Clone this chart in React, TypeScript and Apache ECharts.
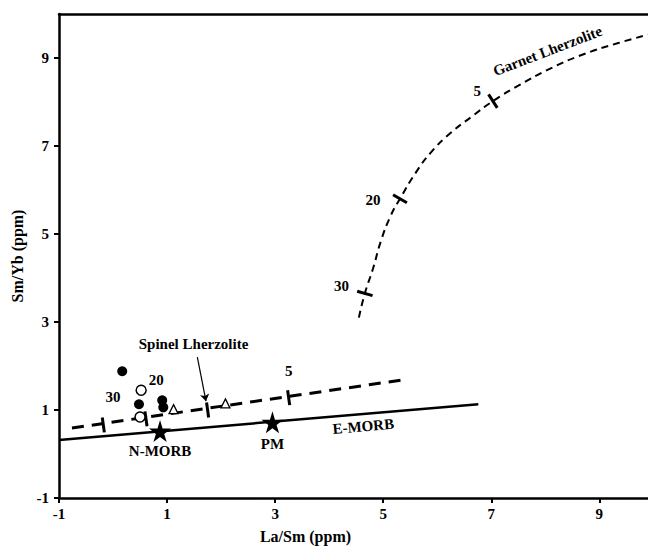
import React, { useEffect, useRef } from "react";
import * as echarts from "echarts";

// ---- data (La/Sm, Sm/Yb) ----
const xTicks = [-1, 1, 3, 5, 7, 9];
const yTicks = [-1, 1, 3, 5, 7, 9];

const eMorbLine = [[-1, 0.32], [6.76, 1.13]];
const spinelLine = [[-0.76, 0.59], [5.33, 1.68]];
const garnetCurve = [
  [4.55, 3.1], [4.66, 3.65], [4.81, 4.21], [4.96, 4.85], [5.14, 5.42], [5.31, 5.8],
  [5.6, 6.39], [5.88, 6.85], [6.25, 7.3], [6.63, 7.66], [7.03, 8.02], [7.5, 8.37],
  [8.11, 8.77], [8.72, 9.09], [9.35, 9.34], [9.9, 9.53],
];
const spinelTicks = [[-0.18, 0.66], [0.61, 0.8], [1.75, 1.0], [3.25, 1.28]];
const garnetTicks = [[4.66, 3.65], [5.31, 5.8], [7.03, 8.02]];
const garnetTickAngles = [74, 60, 33];

const filledCircles = [[0.17, 1.88], [0.48, 1.13], [0.91, 1.22], [0.93, 1.06]];
const openCircles = [[0.52, 1.45], [0.5, 0.84]];
const openTriangles = [[1.12, 1.02], [2.08, 1.15]];
const stars = [[0.87, 0.52], [2.95, 0.72]];
const arrow = [[1.56, 2.2], [1.72, 1.2]];

const numberLabels: [number, number, string][] = [
  [0.0, 1.29, "30"],
  [0.8, 1.68, "20"],
  [3.25, 1.88, "5"],
  [4.23, 3.81, "30"],
  [4.81, 5.78, "20"],
  [6.74, 8.25, "5"],
];
const nameLabels: [number, number, string, number][] = [
  [0.87, 0.07, "N-MORB", 0],
  [2.95, 0.22, "PM", 0],
  [1.49, 2.49, "Spinel Lherzolite", 0],
  [4.63, 0.63, "E-MORB", 5],
  [8.04, 9.16, "Garnet Lherzolite", 21],
];

const FONT = "'Liberation Serif', 'Times New Roman', serif";
const STAR = "path://M50,0 L61,35 L98,35 L68,57 L79,91 L50,70 L21,91 L32,57 L2,35 L39,35 Z";

export default function App() {
  const ref = useRef<HTMLDivElement>(null);
  useEffect(() => {
    if (!ref.current) return;
    const chart = echarts.init(ref.current, null, { renderer: "svg" });
    const axisCommon = {
      axisLine: { show: true, onZero: false, lineStyle: { color: "#000", width: 2.5 } },
      splitLine: { show: false },
    };
    const labelStyle = (size: number) => ({
      show: true, position: "inside", formatter: (p: any) => p.name,
      color: "#000", fontFamily: FONT, fontWeight: "bold", fontSize: size,
    });
    chart.setOption({
      animation: false,
      backgroundColor: "#fff",
      grid: { left: 59, right: 0, top: 14, bottom: 51 },
      xAxis: [
        {
          type: "value", min: -1, max: 9.9,
          ...axisCommon,
          axisTick: { show: true, customValues: xTicks, length: 5, lineStyle: { color: "#000", width: 2 } },
          axisLabel: { customValues: xTicks, color: "#000", fontFamily: FONT, fontWeight: "bold", fontSize: 15, margin: 8 },
          name: "La/Sm (ppm)", nameLocation: "middle", nameGap: 30,
          nameTextStyle: { color: "#000", fontFamily: FONT, fontWeight: "bold", fontSize: 16, padding: [0, 96, 0, 0] },
        },
        {
          type: "value", min: -1, max: 9.9, position: "top",
          ...axisCommon,
          axisTick: { show: false }, axisLabel: { show: false },
        },
      ],
      yAxis: {
        type: "value", min: -1, max: 10,
        ...axisCommon,
        axisTick: { show: true, customValues: yTicks, length: 5, lineStyle: { color: "#000", width: 2 } },
        axisLabel: { customValues: yTicks, color: "#000", fontFamily: FONT, fontWeight: "bold", fontSize: 15, margin: 10 },
        name: "Sm/Yb (ppm)", nameLocation: "middle", nameGap: 34,
        nameTextStyle: { color: "#000", fontFamily: FONT, fontWeight: "bold", fontSize: 16 },
      },
      series: [
        { type: "line", data: eMorbLine, symbol: "none", lineStyle: { color: "#000", width: 2.5 }, z: 2 },
        { type: "line", data: spinelLine, symbol: "none", lineStyle: { color: "#000", width: 3, type: [12, 8] }, z: 2 },
        { type: "line", data: garnetCurve, symbol: "none", smooth: true, lineStyle: { color: "#000", width: 2, type: [7, 5] }, z: 2 },
        {
          type: "scatter", symbol: "rect", symbolSize: [3, 15],
          data: spinelTicks.map((p) => ({ value: p, symbolRotate: 8 })),
          itemStyle: { color: "#000", opacity: 1 }, z: 3,
        },
        {
          type: "scatter", symbol: "rect", symbolSize: [3, 16],
          data: garnetTicks.map((p, i) => ({ value: p, symbolRotate: garnetTickAngles[i] })),
          itemStyle: { color: "#000", opacity: 1 }, z: 3,
        },
        { type: "scatter", symbol: "circle", symbolSize: 10, data: filledCircles, itemStyle: { color: "#000", opacity: 1 }, z: 4 },
        { type: "scatter", symbol: "circle", symbolSize: 10, data: openCircles, itemStyle: { color: "#fff", borderColor: "#000", borderWidth: 1.5, opacity: 1 }, z: 4 },
        { type: "scatter", symbol: "triangle", symbolSize: 9, data: openTriangles, itemStyle: { color: "#fff", borderColor: "#000", borderWidth: 1.3, opacity: 1 }, z: 4 },
        { type: "scatter", symbol: STAR, symbolSize: 22, data: stars, itemStyle: { color: "#000", opacity: 1 }, z: 4 },
        {
          type: "lines", coordinateSystem: "cartesian2d",
          data: [{ coords: arrow }],
          symbol: ["none", "arrow"], symbolSize: 7,
          lineStyle: { color: "#000", width: 1.2, opacity: 1 }, z: 4,
        },
        {
          type: "scatter", symbolSize: 0,
          data: numberLabels.map((l) => ({ value: [l[0], l[1]], name: l[2] })),
          itemStyle: { opacity: 1 },
          label: labelStyle(15),
          z: 5,
        },
        {
          type: "scatter", symbolSize: 0,
          data: nameLabels.map((l) => ({ value: [l[0], l[1]], name: l[2], label: { rotate: l[3] } })),
          itemStyle: { opacity: 1 },
          label: labelStyle(15),
          z: 5,
        },
      ],
    });
    return () => chart.dispose();
  }, []);
  return <div ref={ref} style={{ width: 648, height: 549, position: "absolute", left: 0, top: 0 }} />;
}
